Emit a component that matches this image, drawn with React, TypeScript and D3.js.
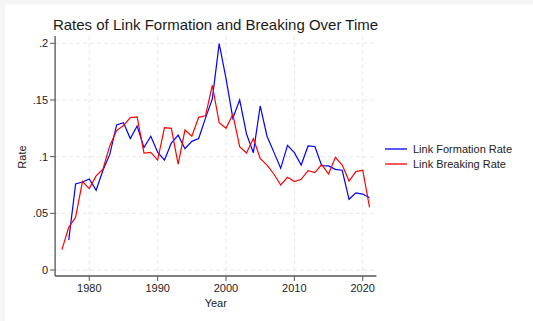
import * as d3 from "d3";

const years = d3.range(1976, 2022);

// formation rate starts in 1977
const formationRate = [
  null, 0.0265, 0.0759, 0.0776, 0.0803, 0.0703, 0.088, 0.102, 0.128, 0.13,
  0.116, 0.127, 0.108, 0.118, 0.104, 0.097, 0.112, 0.119, 0.107, 0.1135,
  0.116, 0.134, 0.151, 0.1997, 0.169, 0.134, 0.15, 0.12, 0.1035, 0.1447,
  0.118, 0.104, 0.0897, 0.11, 0.1035, 0.0926, 0.1094, 0.109, 0.092, 0.0918,
  0.0888, 0.088, 0.0624, 0.068, 0.067, 0.0638,
];

const breakingRate = [
  0.018, 0.0376, 0.0465, 0.078, 0.0718, 0.083, 0.089, 0.1097, 0.123, 0.1274,
  0.1344, 0.135, 0.1032, 0.1038, 0.097, 0.1256, 0.125, 0.0935, 0.1235, 0.118,
  0.1347, 0.136, 0.163, 0.13, 0.125, 0.1374, 0.1088, 0.1032, 0.116, 0.0985,
  0.0926, 0.0847, 0.075, 0.0818, 0.078, 0.08, 0.0876, 0.086, 0.093, 0.0847,
  0.0994, 0.0926, 0.0785, 0.0868, 0.088, 0.0553,
];

const xTicks = [1980, 1990, 2000, 2010, 2020];
const yTicks = [0, 0.05, 0.1, 0.15, 0.2];
const yTickLabels = ["0", ".05", ".1", ".15", ".2"];

const seriesNames = ["Link Formation Rate", "Link Breaking Rate"];
const seriesColors = ["#0000ff", "#ff0000"];

const W = 533;
const H = 321;
const font = "'Liberation Sans', Arial, Helvetica, sans-serif";

export default function App() {
  const x = d3.scaleLinear().domain([1975, 2022]).range([55.1, 376.4]);
  const y = d3.scaleLinear().domain([0, 0.2]).range([270, 43.3]);

  const left = x(1975);
  const right = x(2022);
  const top = 36;
  const bottom = 276;

  const line = d3
    .line<number | null>()
    .defined((d) => d != null)
    .x((_, i) => x(years[i]))
    .y((d) => y(d as number));

  const series = [formationRate, breakingRate];

  return (
    <div>
      <style>{"body{margin:0}"}</style>
      <svg width={W} height={H} style={{ display: "block" }} fontFamily={font}>
        <rect width={W} height={H} fill="#f5f5f5" />
        <rect x={5} y={4.5} width={W - 5} height={H - 4.5} fill="#ffffff" />

        {/* grid */}
        {yTicks.map((t) => (
          <line key={"gy" + t} x1={left} x2={right} y1={y(t)} y2={y(t)}
            stroke="#e6e6e6" strokeWidth={0.9} strokeDasharray="4,3" />
        ))}
        {xTicks.map((t) => (
          <line key={"gx" + t} x1={x(t)} x2={x(t)} y1={top} y2={bottom}
            stroke="#e6e6e6" strokeWidth={0.9} strokeDasharray="4,3" />
        ))}

        {/* lines */}
        {series.map((s, i) => (
          <path key={i} d={line(s) || ""} fill="none" stroke={seriesColors[i]}
            strokeWidth={1.2} strokeLinejoin="miter" />
        ))}

        {/* axes */}
        <line x1={left} x2={left} y1={top} y2={bottom} stroke="#555" strokeWidth={1.3} />
        <line x1={left} x2={right} y1={bottom} y2={bottom} stroke="#555" strokeWidth={1.3} />
        {yTicks.map((t, i) => (
          <g key={"yt" + t}>
            <line x1={left - 5} x2={left} y1={y(t)} y2={y(t)} stroke="#555" strokeWidth={1} />
            <text x={left - 7} y={y(t)} dy="0.35em" textAnchor="end" fontSize={11} fill="#222">
              {yTickLabels[i]}
            </text>
          </g>
        ))}
        {xTicks.map((t) => (
          <g key={"xt" + t}>
            <line x1={x(t)} x2={x(t)} y1={bottom} y2={bottom + 5} stroke="#555" strokeWidth={1} />
            <text x={x(t)} y={bottom + 16} textAnchor="middle" fontSize={11} fill="#222">
              {t}
            </text>
          </g>
        ))}

        <text x={(left + right) / 2} y={307} textAnchor="middle" fontSize={11} fill="#222">Year</text>
        <text transform={`translate(26,157) rotate(-90)`} textAnchor="middle" fontSize={11} fill="#222">Rate</text>

        <text x={215.5} y={30} textAnchor="middle" fontSize={15} fill="#1a1a1a">
          Rates of Link Formation and Breaking Over Time
        </text>

        {/* legend */}
        {seriesNames.map((n, i) => (
          <g key={n} transform={`translate(385,${149 + i * 15})`}>
            <line x1={0} x2={22} y1={0} y2={0} stroke={seriesColors[i]} strokeWidth={1.3} />
            <text x={28} y={0} dy="0.35em" fontSize={11} fill="#222">{n}</text>
          </g>
        ))}
      </svg>
    </div>
  );
}
